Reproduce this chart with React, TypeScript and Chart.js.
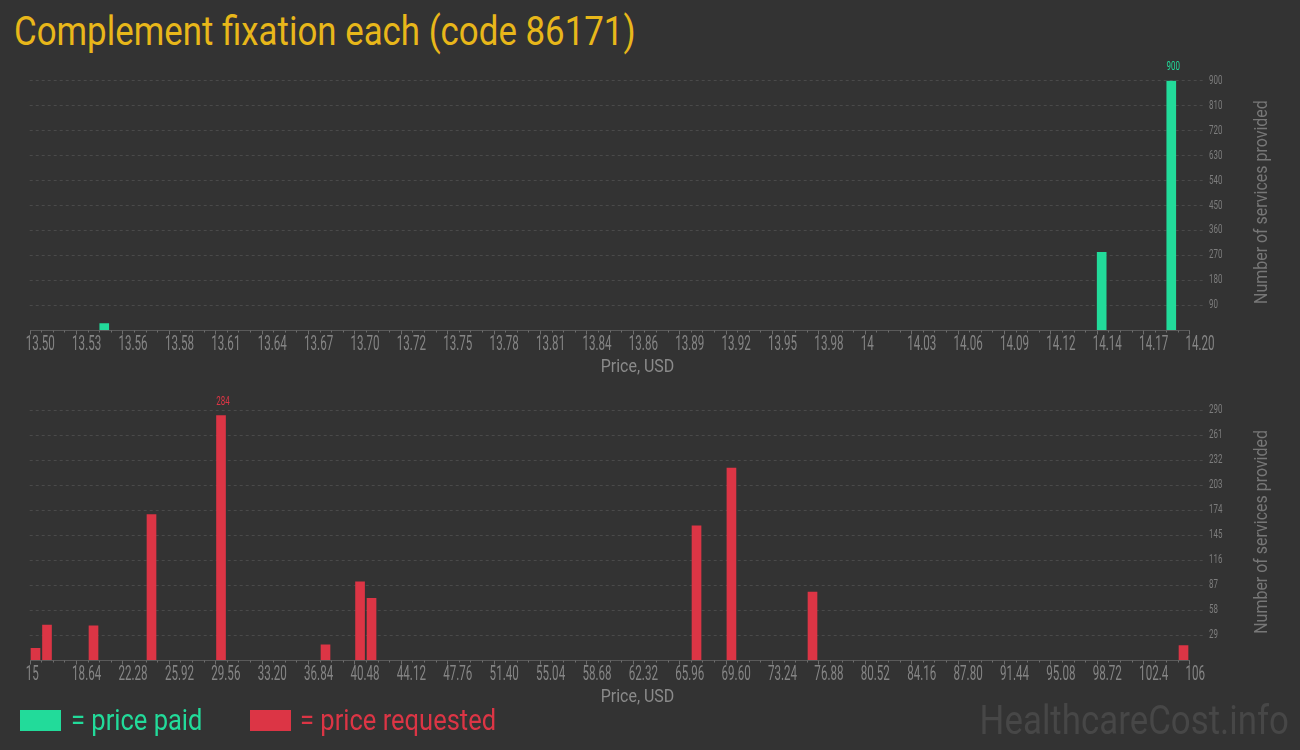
import React, { useEffect, useRef } from 'react';
import { Chart, registerables } from 'chart.js';

Chart.register(...registerables);

// ---------- text ----------
const TITLE = 'Complement fixation each (code 86171)';
const X_TITLE = 'Price, USD';
const Y_TITLE = 'Number of services provided';
const LEGEND_PAID = '= price paid';
const LEGEND_REQUESTED = '= price requested';
const WATERMARK = 'HealthcareCost.info';

// ---------- data: price paid ----------
const paidPrices = [13.545, 14.147, 14.189];
const paidCounts = [24, 281, 900];
const paidTickLabels = [
  '13.50', '13.53', '13.56', '13.58', '13.61', '13.64', '13.67', '13.70', '13.72',
  '13.75', '13.78', '13.81', '13.84', '13.86', '13.89', '13.92', '13.95', '13.98',
  '14', '14.03', '14.06', '14.09', '14.12', '14.14', '14.17', '14.20',
];
const paidAxisMin = 13.5;
const paidAxisStep = 0.028;
const paidYMax = 900;
const paidYStep = 90;

// ---------- data: price requested ----------
const requestedPrices = [15.455, 16.357, 20.006, 24.557, 30.01, 38.21, 40.92, 41.82, 67.32, 70.06, 76.42, 105.53];
const requestedCounts = [14, 41, 40, 169, 284, 18, 91, 72, 156, 223, 79, 17];
const requestedTickLabels = [
  '15', '18.64', '22.28', '25.92', '29.56', '33.20', '36.84', '40.48', '44.12',
  '47.76', '51.40', '55.04', '58.68', '62.32', '65.96', '69.60', '73.24', '76.88',
  '80.52', '84.16', '87.80', '91.44', '95.08', '98.72', '102.4', '106',
];
const requestedAxisMin = 15;
const requestedAxisStep = 3.64;
const requestedYMax = 290;
const requestedYStep = 29;

// ---------- style ----------
const BG = '#333333';
const GOLD = '#e8b71a';
const GREEN = '#22db9a';
const RED = '#dc3545';
const GRID = '#4a4a4a';
const AXIS_LINE = '#5a5a5a';
const TICK_MARK = '#6e6e6e';
const X_TICK_COLOR = '#858585';
const Y_TICK_COLOR = '#7d7d7d';
const FONT = 'Roboto';

// horizontal squeeze per font size (emulates the condensed face of the original)
const SQUEEZE: Record<number, { f: number; dx: number }> = {
  20: { f: 0.58, dx: -4 },
  12: { f: 0.66, dx: 0 },
  19: { f: 0.84, dx: 0 },
};

function patchContext(ctx: any) {
  if (!ctx || ctx.__squeezed) return;
  ctx.__squeezed = true;
  const orig = ctx.fillText.bind(ctx);
  ctx.fillText = (text: string, x: number, y: number, maxWidth?: number) => {
    const m = /(\d+(?:\.\d+)?)px/.exec(ctx.font);
    const size = m ? parseFloat(m[1]) : 0;
    const s = SQUEEZE[size];
    if (!s) {
      if (maxWidth === undefined) orig(text, x, y);
      else orig(text, x, y, maxWidth);
      return;
    }
    ctx.save();
    ctx.translate(x + s.dx, y);
    ctx.scale(s.f, 1);
    orig(text, 0, 0);
    ctx.restore();
  };
}

const PLOT_LEFT = 29.7;
const Y_AXIS_WIDTH = 96;
const X_AXIS_HEIGHT = 49.7;
const X_EXTEND = 1174.3 / 1159.8; // plot area continues a little past the last tick

type Spec = {
  prices: number[];
  counts: number[];
  color: string;
  tickLabels: string[];
  xMin: number;
  xStep: number;
  yMax: number;
  yStep: number;
  topPad: number;
};

function decorPlugin(tickValues: number[], color: string) {
  return {
    id: 'decor',
    afterDatasetsDraw(chart: any) {
      const meta = chart.getDatasetMeta(0);
      const values: number[] = chart.data.datasets[0].data.map((d: any) => d.y);
      let mi = 0;
      values.forEach((v, i) => {
        if (v > values[mi]) mi = i;
      });
      const el = meta.data[mi];
      const ctx = chart.ctx;
      ctx.save();
      ctx.fillStyle = color;
      ctx.font = `12px ${FONT}`;
      ctx.textAlign = 'center';
      ctx.textBaseline = 'middle';
      ctx.fillText(String(values[mi]), el.x + 2, el.y - 13.3);
      ctx.restore();
    },
    afterDraw(chart: any) {
      const { ctx, chartArea } = chart;
      const xs = chart.scales.x;
      ctx.save();
      const yb = Math.floor(chartArea.bottom) + 0.5;
      const first = xs.getPixelForValue(tickValues[0]);
      const last = xs.getPixelForValue(tickValues[tickValues.length - 1]);
      ctx.strokeStyle = AXIS_LINE;
      ctx.lineWidth = 1;
      ctx.beginPath();
      ctx.moveTo(Math.round(first), yb);
      ctx.lineTo(Math.round(last) + 1, yb);
      ctx.stroke();
      ctx.strokeStyle = TICK_MARK;
      ctx.beginPath();
      for (let i = 0; i < tickValues.length; i++) {
        const px = Math.round(xs.getPixelForValue(tickValues[i])) + 0.5;
        ctx.moveTo(px, yb);
        ctx.lineTo(px, yb + 4);
        if (i < tickValues.length - 1) {
          for (let k = 1; k < 4; k++) {
            const v = tickValues[i] + ((tickValues[i + 1] - tickValues[i]) * k) / 4;
            const mx = Math.round(xs.getPixelForValue(v)) + 0.5;
            ctx.moveTo(mx, yb);
            ctx.lineTo(mx, yb + 2);
          }
        }
      }
      ctx.stroke();

      // x title
      ctx.fillStyle = '#8a8a8a';
      ctx.font = `19px ${FONT}`;
      ctx.textAlign = 'center';
      ctx.textBaseline = 'middle';
      ctx.fillText(X_TITLE, 637.5, chartArea.bottom + 37.4);

      // y title (reads upward)
      ctx.fillStyle = '#777777';
      ctx.translate(chartArea.right + 58.5, (chartArea.top + chartArea.bottom) / 2 - 3.4);
      ctx.rotate(-Math.PI / 2);
      ctx.fillText(Y_TITLE, 0, 0);
      ctx.restore();
    },
  };
}

function makeConfig(spec: Spec): any {
  const { prices, counts, color, tickLabels, xMin, xStep, yMax, yStep, topPad } = spec;
  const tickValues = tickLabels.map((_, i) => xMin + i * xStep);
  const lastTick = tickValues[tickValues.length - 1];
  const xMax = xMin + (lastTick - xMin) * X_EXTEND;
  return {
    type: 'bar',
    data: {
      datasets: [
        {
          data: prices.map((p, i) => ({ x: p, y: counts[i] })),
          backgroundColor: color,
          borderWidth: 0,
          barThickness: 9,
        },
      ],
    },
    options: {
      responsive: false,
      animation: false,
      events: [],
      layout: { padding: { left: PLOT_LEFT, right: 0, top: topPad, bottom: 0 } },
      plugins: {
        legend: { display: false },
        tooltip: { enabled: false },
        title: { display: false },
      },
      scales: {
        x: {
          type: 'linear',
          min: xMin,
          max: xMax,
          offset: false,
          grid: { display: false, drawTicks: false },
          border: { display: false },
          afterBuildTicks: (s: any) => {
            s.ticks = tickValues.map((v) => ({ value: v }));
          },
          afterFit: (s: any) => {
            s.height = X_AXIS_HEIGHT;
          },
          ticks: {
            autoSkip: false,
            maxRotation: 0,
            minRotation: 0,
            align: 'start',
            padding: 3,
            color: X_TICK_COLOR,
            font: { family: FONT, size: 20 },
            callback: (_v: any, i: number) => tickLabels[i],
          },
        },
        y: {
          position: 'right',
          min: 0,
          max: yMax,
          grid: {
            color: (c: any) => (c.tick && c.tick.value === 0 ? 'rgba(0,0,0,0)' : GRID),
            drawTicks: false,
            lineWidth: 1,
          },
          border: { display: false, dash: [3, 3] },
          afterFit: (s: any) => {
            s.width = Y_AXIS_WIDTH;
          },
          ticks: {
            stepSize: yStep,
            padding: 5,
            color: Y_TICK_COLOR,
            font: { family: FONT, size: 12 },
            callback: (v: any) => (v === 0 ? '' : String(v)),
          },
        },
      },
    },
    plugins: [decorPlugin(tickValues, color)],
  };
}

function BarPanel({ spec, top }: { spec: Spec; top: number }) {
  const ref = useRef<HTMLCanvasElement | null>(null);
  useEffect(() => {
    const canvas = ref.current;
    if (!canvas) return;
    const ctx = canvas.getContext('2d');
    patchContext(ctx);
    const chart = new Chart(canvas, makeConfig(spec));
    return () => chart.destroy();
  }, [spec]);
  return (
    <canvas
      ref={ref}
      width={1300}
      height={320}
      style={{ position: 'absolute', left: 0, top, width: 1300, height: 320, display: 'block' }}
    />
  );
}

const paidSpec: Spec = {
  prices: paidPrices,
  counts: paidCounts,
  color: GREEN,
  tickLabels: paidTickLabels,
  xMin: paidAxisMin,
  xStep: paidAxisStep,
  yMax: paidYMax,
  yStep: paidYStep,
  topPad: 20.7,
};

const requestedSpec: Spec = {
  prices: requestedPrices,
  counts: requestedCounts,
  color: RED,
  tickLabels: requestedTickLabels,
  xMin: requestedAxisMin,
  xStep: requestedAxisStep,
  yMax: requestedYMax,
  yStep: requestedYStep,
  topPad: 20.3,
};

const condensed = (origin: string): React.CSSProperties => ({
  position: 'absolute',
  fontFamily: FONT,
  whiteSpace: 'nowrap',
  transform: 'scaleX(0.85)',
  transformOrigin: origin,
});

export default function App() {
  useEffect(() => {
    document.body.style.margin = '0';
    document.body.style.background = BG;
    document.body.style.overflow = 'hidden';
  }, []);
  return (
    <div
      style={{
        position: 'fixed',
        left: 0,
        top: 0,
        width: 1300,
        height: 750,
        background: BG,
        overflow: 'hidden',
      }}
    >
      <div style={{ ...condensed('0 0'), left: 14, top: 10.5, fontSize: 41, lineHeight: '41px', color: GOLD }}>
        {TITLE}
      </div>
      <BarPanel spec={paidSpec} top={60} />
      <BarPanel spec={requestedSpec} top={390} />
      <div style={{ position: 'absolute', left: 20, top: 710, width: 41, height: 21, background: GREEN }} />
      <div style={{ ...condensed('0 0'), left: 70.7, top: 705.4, fontSize: 30, lineHeight: '30px', color: GREEN }}>
        {LEGEND_PAID}
      </div>
      <div style={{ position: 'absolute', left: 250, top: 710, width: 41, height: 21, background: RED }} />
      <div style={{ ...condensed('0 0'), left: 299.7, top: 705.4, fontSize: 30, lineHeight: '30px', color: RED }}>
        {LEGEND_REQUESTED}
      </div>
      <div
        style={{
          ...condensed('100% 0'),
          right: 11,
          top: 699.5,
          fontSize: 41,
          lineHeight: '41px',
          color: '#474747',
        }}
      >
        {WATERMARK}
      </div>
    </div>
  );
}
